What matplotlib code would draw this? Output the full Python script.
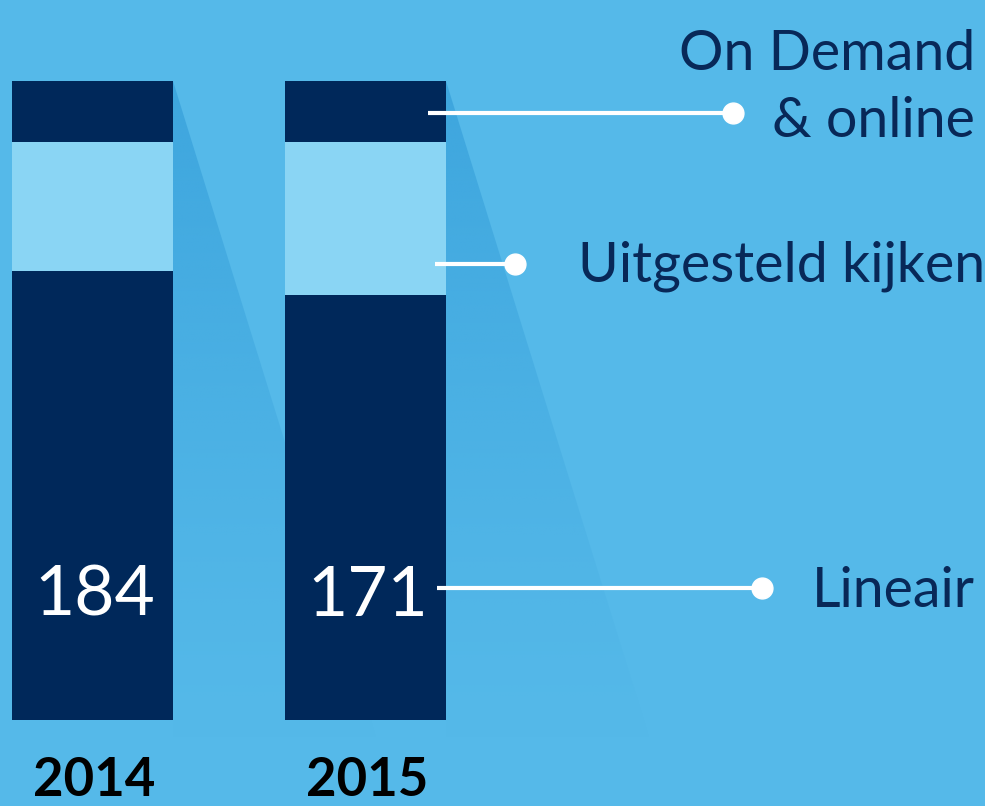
import matplotlib.pyplot as plt
import matplotlib.colors as mcolors
import numpy as np
from matplotlib.patches import Polygon

# data: share of viewing time per bar (%), and linear minutes shown as label
years = ['2014', '2015']
lineair = [70.3, 66.5]
uitgesteld = [20.2, 23.9]
on_demand = [9.5, 9.6]
lineair_minutes = [184, 171]
labels = ['On Demand\n& online', 'Uitgesteld kijken', 'Lineair']

# colours
BG = '#55b9e9'
SHADOW = '#3ea6de'
DARK = '#00285a'
LIGHT = '#8ad5f4'
TEXT = '#082858'

plt.rcParams['font.family'] = ['Lato', 'DejaVu Sans']

W, H = 985, 806
fig = plt.figure(figsize=(W / 100, H / 100), dpi=100)
fig.patch.set_facecolor(BG)

# layout in pixels
bar_left = [12, 285]
bar_w = 161
bar_top, bar_bot = 81, 720
slope = 0.31

# background axes with the long shadows
ax_bg = fig.add_axes([0, 0, 1, 1])
ax_bg.set_xlim(0, W)
ax_bg.set_ylim(H, 0)
ax_bg.set_facecolor(BG)
ax_bg.axis('off')

rgb = mcolors.to_rgb(SHADOW)
n = 256
grad = np.zeros((n, 1, 4))
grad[:, 0, :3] = rgb
grad[:, 0, 3] = np.linspace(1, 0, n) ** 1.2
shadow_bottom = 745
for xl in bar_left:
    xr = xl + bar_w
    x_end = xr + slope * (shadow_bottom - bar_top)
    poly = Polygon([(xr, bar_top), (x_end, shadow_bottom), (xr, shadow_bottom)],
                   closed=True, facecolor='none', edgecolor='none')
    ax_bg.add_patch(poly)
    im = ax_bg.imshow(grad, extent=(xr, x_end, shadow_bottom, bar_top),
                      origin='upper', aspect='auto', interpolation='bilinear')
    im.set_clip_path(poly)

# bars
ax = fig.add_axes([0, (H - bar_bot) / H, 1, (bar_bot - bar_top) / H])
ax.set_xlim(0, W)
ax.set_ylim(0, 100)
ax.axis('off')
bottom2 = [a + b for a, b in zip(lineair, uitgesteld)]
ax.bar(bar_left, lineair, width=bar_w, align='edge', color=DARK)
ax.bar(bar_left, uitgesteld, width=bar_w, bottom=lineair, align='edge', color=LIGHT)
ax.bar(bar_left, on_demand, width=bar_w, bottom=bottom2, align='edge', color=DARK)

# overlay: numbers, leader lines, labels
ax_top = fig.add_axes([0, 0, 1, 1])
ax_top.set_xlim(0, W)
ax_top.set_ylim(H, 0)
ax_top.patch.set_alpha(0)
ax_top.axis('off')

for xl, m, yr in zip(bar_left, lineair_minutes, years):
    cx = xl + bar_w / 2 + 2
    ax_top.text(cx, 590, str(m), color='white', fontsize=50,
                ha='center', va='center_baseline')
    ax_top.text(cx, 805, yr, color='black', fontsize=38, fontweight='bold',
                ha='center', va='bottom')

leaders = [(428, 733, 113), (435, 515, 264), (437, 762, 588)]
for x0, x1, y in leaders:
    ax_top.plot([x0, x1], [y, y], color='white', lw=3, solid_capstyle='butt')
    ax_top.plot(x1, y, 'o', color='white', markersize=15)

ax_top.text(975, 70, 'On Demand', color=TEXT, fontsize=40, ha='right', va='baseline')
ax_top.text(975, 137, '& online', color=TEXT, fontsize=40, ha='right', va='baseline')
ax_top.text(985, 282, labels[1], color=TEXT, fontsize=40, ha='right', va='baseline')
ax_top.text(975, 607, labels[2], color=TEXT, fontsize=40, ha='right', va='baseline')

fig.savefig('out.png', dpi=100, facecolor=BG)
